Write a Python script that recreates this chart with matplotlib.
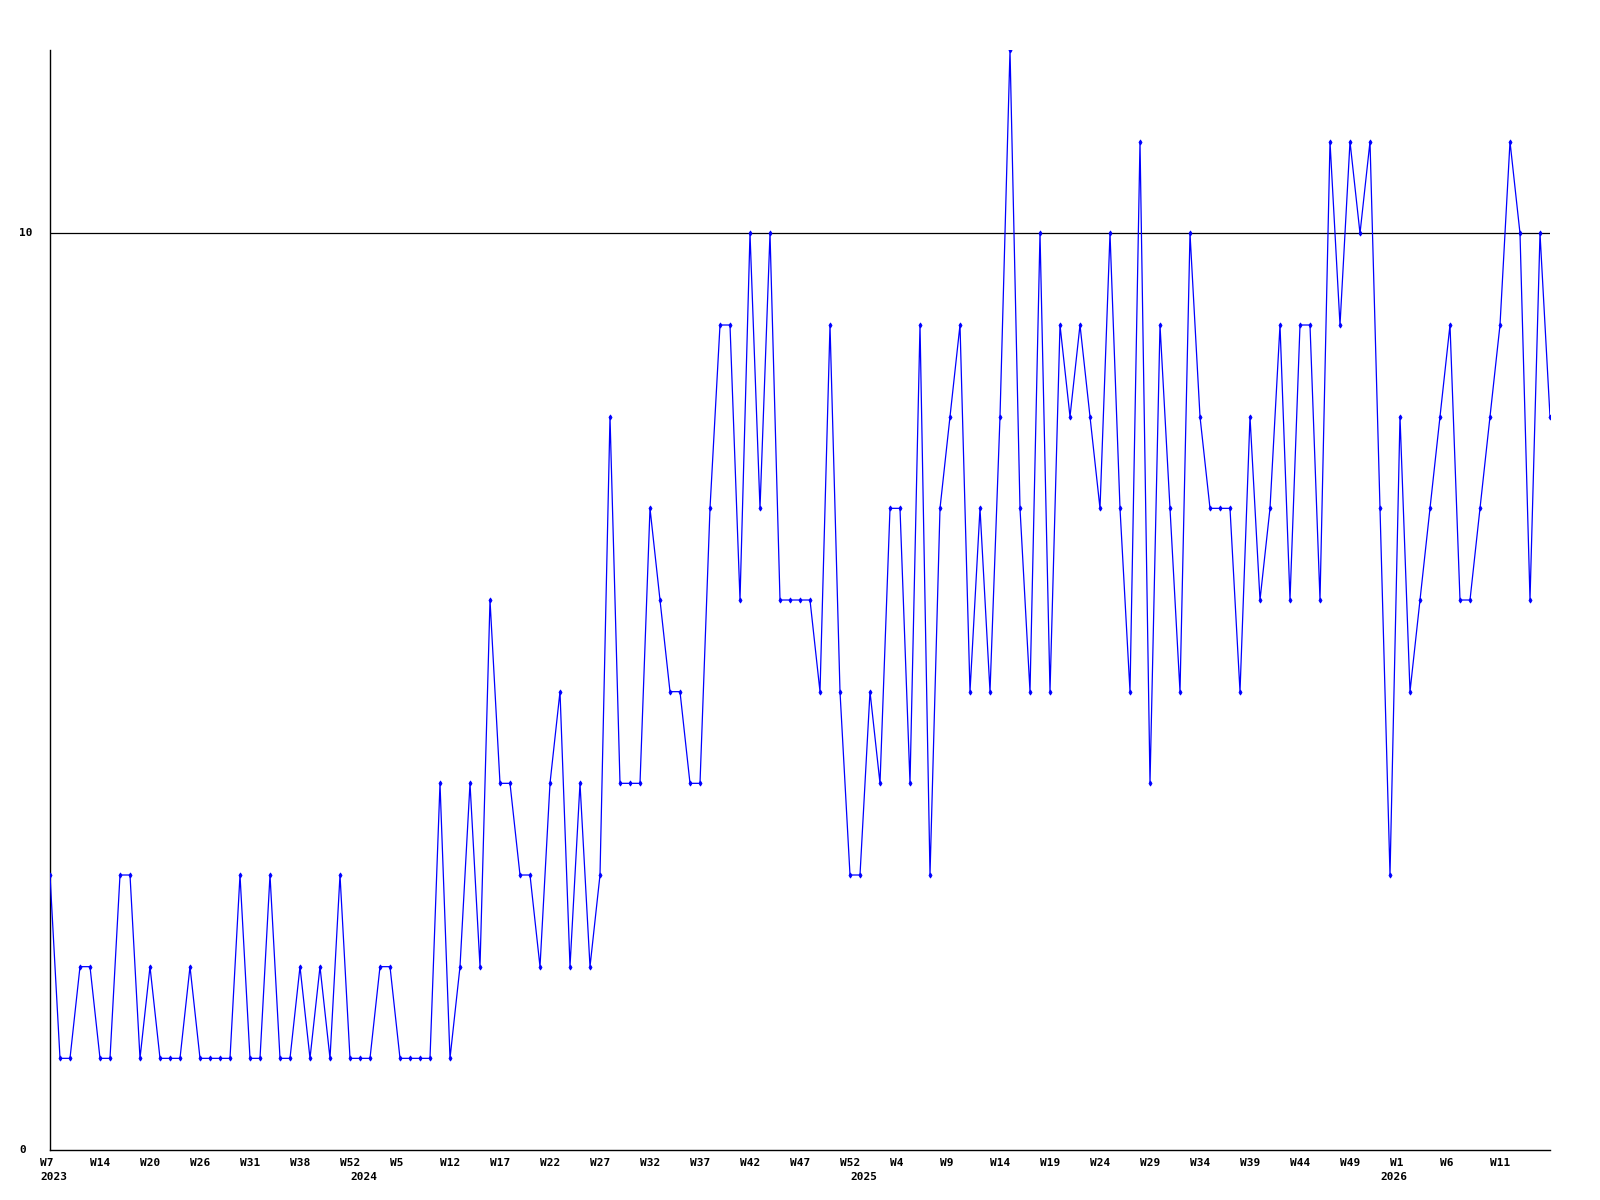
import matplotlib
matplotlib.use("Agg")
import matplotlib.pyplot as plt
from matplotlib import transforms

values = [3, 1, 1, 2, 2, 1, 1, 3, 3, 1, 2, 1, 1, 1, 2, 1, 1, 1, 1, 3,
          1, 1, 3, 1, 1, 2, 1, 2, 1, 3, 1, 1, 1, 2, 2, 1, 1, 1, 1, 4,
          1, 2, 4, 2, 6, 4, 4, 3, 3, 2, 4, 5, 2, 4, 2, 3, 8, 4, 4, 4,
          7, 6, 5, 5, 4, 4, 7, 9, 9, 6, 10, 7, 10, 6, 6, 6, 6, 5, 9, 5,
          3, 3, 5, 4, 7, 7, 4, 9, 3, 7, 8, 9, 5, 7, 5, 8, 12, 7, 5, 10,
          5, 9, 8, 9, 8, 7, 10, 7, 5, 11, 4, 9, 7, 5, 10, 8, 7, 7, 7, 5,
          8, 6, 7, 9, 6, 9, 9, 6, 11, 9, 11, 10, 11, 7, 3, 8, 5, 6, 7, 8,
          9, 6, 6, 7, 8, 9, 11, 10, 6, 10, 8]

week_labels = ["W7", "W14", "W20", "W26", "W31", "W38", "W52", "W5", "W12", "W17",
               "W22", "W27", "W32", "W37", "W42", "W47", "W52", "W4", "W9", "W14",
               "W19", "W24", "W29", "W34", "W39", "W44", "W49", "W1", "W6", "W11"]
year_labels = ["2023", "2024", "2025", "2026"]
year_index = [0, 31, 81, 134]
y_labels = ["0", "10"]
y_values = [0, 10]

DPI = 100
fig = plt.figure(figsize=(16, 12), dpi=DPI)
ax = fig.add_axes([50 / 1600, 50 / 1200, 1500 / 1600, 1100 / 1200])

x = list(range(len(values)))
ax.plot(x, values, color="#0000ff", lw=0.9, marker="d", ms=2.6, mew=0.6,
        mec="#0000ff", mfc="#0000ff", zorder=3, clip_on=True)

ax.set_xlim(0, len(values) - 1)
ax.set_ylim(0, 12)
ax.axhline(10, color="black", lw=0.9, zorder=2)

for s in ["top", "right"]:
    ax.spines[s].set_visible(False)
for s in ["left", "bottom"]:
    ax.spines[s].set_color("black")
    ax.spines[s].set_linewidth(1.0)

ax.set_xticks([])
ax.set_yticks([])

font = dict(family="DejaVu Sans Mono", weight="bold", size=8, color="black")

blend = transforms.blended_transform_factory(ax.transData, fig.transFigure)
shift = transforms.offset_copy(blend, fig=fig, x=-10, y=0, units="dots")
tick_pos = list(range(0, len(values), 5))
for pos, lab in zip(tick_pos, week_labels):
    ax.text(pos, 1 - 1163 / 1200, lab, transform=shift, ha="left", va="center",
            clip_on=False, **font)
for pos, lab in zip(year_index, year_labels):
    ax.text(pos, 1 - 1177 / 1200, lab, transform=shift, ha="left", va="center",
            clip_on=False, **font)

yblend = transforms.blended_transform_factory(fig.transFigure, ax.transData)
for yv, lab in zip(y_values, y_labels):
    ax.text(19 / 1600, yv, lab, transform=yblend, ha="left", va="center",
            clip_on=False, **font)

fig.savefig("out.png", dpi=DPI, facecolor="white")
